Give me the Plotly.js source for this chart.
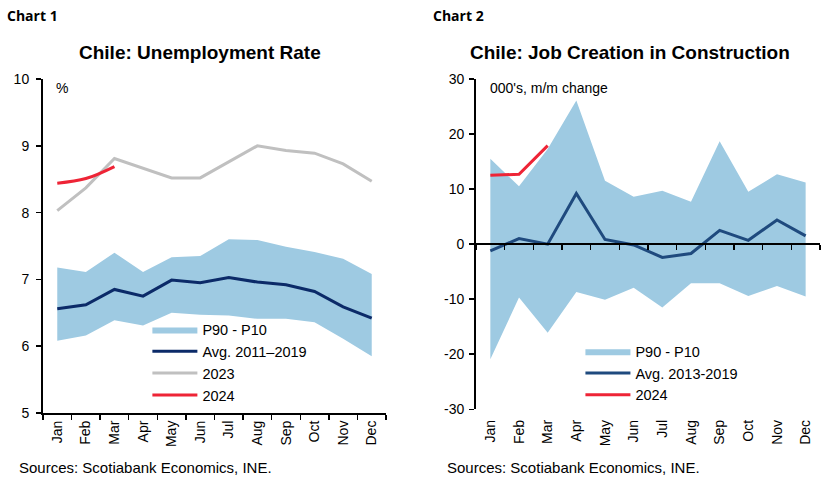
<!DOCTYPE html>
<html>
<head>
<meta charset="utf-8">
<script src="https://cdn.plot.ly/plotly-3.0.1.min.js"></script>
<style>
  html, body { margin: 0; padding: 0; background: #fff; }
  #chart { width: 828px; height: 483px; }
</style>
</head>
<body>
<div id="chart"></div>
<script>
var months = ['Jan', 'Feb', 'Mar', 'Apr', 'May', 'Jun', 'Jul', 'Aug', 'Sep', 'Oct', 'Nov', 'Dec']

// chart 1: unemployment rate, %
var unempP90 = [7.18, 7.11, 7.40, 7.11, 7.33, 7.35, 7.60, 7.59, 7.49, 7.41, 7.31, 7.08]
var unempP10 = [6.08, 6.16, 6.39, 6.31, 6.50, 6.47, 6.46, 6.41, 6.41, 6.36, 6.11, 5.85]
var unempAvg = [6.56, 6.62, 6.85, 6.75, 6.99, 6.95, 7.03, 6.96, 6.92, 6.82, 6.59, 6.42]
var unemp2023 = [8.03, 8.37, 8.81, 8.66, 8.52, 8.52, 8.76, 9.00, 8.93, 8.89, 8.73, 8.47]
var unemp2024 = [8.44, 8.51, 8.69]

// chart 2: construction jobs, 000's m/m change
var jobsP90 = [15.5, 10.5, 17.3, 26.1, 11.5, 8.6, 9.7, 7.7, 18.7, 9.5, 12.7, 11.2]
var jobsP10 = [-20.9, -9.7, -16.1, -8.7, -10.1, -7.9, -11.5, -7.1, -7.1, -9.4, -7.6, -9.5]
var jobsAvg = [-1.2, 1.0, 0.0, 9.2, 0.85, -0.15, -2.4, -1.7, 2.5, 0.7, 4.4, 1.5]
var jobs2024 = [12.5, 12.7, 17.9]

var jobsTicks = [-30, -20, -10, 0, 10, 20, 30]
var jobsTickText = ['-30', '-20', '-10', '0', '10', '20', '30']

var bandColor = '#9ecae2'
var font = 'Liberation Sans, Arial, sans-serif'

var data = [
  // chart 1
  {x: months, y: unempP10, type: 'scatter', mode: 'lines', line: {width: 0}, showlegend: false, hoverinfo: 'skip', xaxis: 'x', yaxis: 'y'},
  {x: months, y: unempP90, type: 'scatter', mode: 'lines', fill: 'tonexty', fillcolor: bandColor, line: {width: 0, color: bandColor}, name: 'P90 - P10', legend: 'legend', xaxis: 'x', yaxis: 'y'},
  {x: months, y: unempAvg, type: 'scatter', mode: 'lines', line: {width: 3, color: '#0b2a68'}, name: 'Avg. 2011–2019', legend: 'legend', xaxis: 'x', yaxis: 'y'},
  {x: months, y: unemp2023, type: 'scatter', mode: 'lines', line: {width: 3, color: '#c0c0c0'}, name: '2023', legend: 'legend', xaxis: 'x', yaxis: 'y'},
  {x: months.slice(0, 3), y: unemp2024, type: 'scatter', mode: 'lines', line: {width: 3, color: '#ee2436', shape: 'spline'}, name: '2024', legend: 'legend', xaxis: 'x', yaxis: 'y'},
  // chart 2
  {x: months, y: jobsP10, type: 'scatter', mode: 'lines', line: {width: 0}, showlegend: false, hoverinfo: 'skip', xaxis: 'x2', yaxis: 'y2'},
  {x: months, y: jobsP90, type: 'scatter', mode: 'lines', fill: 'tonexty', fillcolor: bandColor, line: {width: 0, color: bandColor}, name: 'P90 - P10', legend: 'legend2', xaxis: 'x2', yaxis: 'y2'},
  // empty trace so the zero-crossing category axis gets drawn
  {x: [], y: [], type: 'scatter', mode: 'lines', showlegend: false, hoverinfo: 'skip', xaxis: 'x3', yaxis: 'y2'},
  {x: months, y: jobsAvg, type: 'scatter', mode: 'lines', line: {width: 3, color: '#1f4a7e'}, name: 'Avg. 2013-2019', legend: 'legend2', xaxis: 'x2', yaxis: 'y2'},
  {x: months.slice(0, 3), y: jobs2024, type: 'scatter', mode: 'lines', line: {width: 3, color: '#ee2436'}, name: '2024', legend: 'legend2', xaxis: 'x2', yaxis: 'y2'}
]

var tickFont = {family: font, size: 14, color: '#000'}

var layout = {
  width: 828,
  height: 483,
  margin: {l: 0, r: 0, t: 0, b: 0},
  paper_bgcolor: '#fff',
  plot_bgcolor: 'rgba(0,0,0,0)',
  showlegend: true,
  font: {family: font, size: 14, color: '#000'},
  xaxis: {
    domain: [0.0519, 0.4662], anchor: 'y', type: 'category', range: [-0.5, 11.5],
    showline: true, linecolor: '#000', linewidth: 2, ticks: 'outside', tickson: 'boundaries',
    ticklen: 5, tickwidth: 1.5, tickcolor: '#000', tickangle: -90, tickfont: tickFont,
    showgrid: false, zeroline: false, fixedrange: true
  },
  yaxis: {
    domain: [0.1449, 0.8364], anchor: 'x', range: [5, 10], dtick: 1,
    showline: true, linecolor: '#000', linewidth: 2, ticks: 'outside', ticklen: 5,
    tickwidth: 1.5, tickcolor: '#000', tickfont: tickFont, showgrid: false, zeroline: false,
    ticklabelstandoff: 4
  },
  xaxis2: {
    domain: [0.5749, 0.9903], anchor: 'y2', type: 'category', range: [-0.5, 11.5],
    showline: false, ticks: 'outside', ticklen: 4, tickcolor: 'rgba(0,0,0,0)', tickangle: -90,
    tickfont: tickFont, showgrid: false, zeroline: false
  },
  xaxis3: {
    overlaying: 'x2', anchor: 'free', position: 0.4948, type: 'linear', range: [-0.5, 11.5],
    tick0: -0.5, dtick: 1, showticklabels: false, showline: true, linecolor: '#000', linewidth: 2,
    ticks: 'outside', ticklen: 5, tickwidth: 1.5, tickcolor: '#000', showgrid: false, zeroline: false
  },
  yaxis2: {
    domain: [0.1526, 0.8364], anchor: 'x2', range: [-30, 30], tickvals: jobsTicks, ticktext: jobsTickText,
    showline: true, linecolor: '#000', linewidth: 2, ticks: 'outside', ticklen: 5,
    tickwidth: 1.5, tickcolor: '#000', tickfont: tickFont, showgrid: false, zeroline: false,
    ticklabelstandoff: 2
  },
  legend: {
    x: 0.178, y: 0.351, xanchor: 'left', yanchor: 'top', bgcolor: 'rgba(0,0,0,0)', traceorder: 'normal',
    font: {family: font, size: 14.5, color: '#000'}, tracegroupgap: 0, itemwidth: 45
  },
  legend2: {
    x: 0.701, y: 0.306, xanchor: 'left', yanchor: 'top', bgcolor: 'rgba(0,0,0,0)', traceorder: 'normal',
    font: {family: font, size: 14.5, color: '#000'}, tracegroupgap: 0, itemwidth: 45
  },
  annotations: [
    {text: '<b>Chart 1</b>', xref: 'paper', yref: 'paper', x: 0.006, y: 0.967, xanchor: 'left', yanchor: 'middle', showarrow: false, font: {family: 'Open Sans, sans-serif', size: 14}},
    {text: '<b>Chart 2</b>', xref: 'paper', yref: 'paper', x: 0.521, y: 0.967, xanchor: 'left', yanchor: 'middle', showarrow: false, font: {family: 'Open Sans, sans-serif', size: 14}},
    {text: '<b>Chile: Unemployment Rate</b>', xref: 'paper', yref: 'paper', x: 0.2415, y: 0.892, xanchor: 'center', yanchor: 'middle', showarrow: false, font: {family: font, size: 19}},
    {text: '<b>Chile: Job Creation in Construction</b>', xref: 'paper', yref: 'paper', x: 0.7605, y: 0.892, xanchor: 'center', yanchor: 'middle', showarrow: false, font: {family: font, size: 19}},
    {text: '%', xref: 'paper', yref: 'paper', x: 0.065, y: 0.818, xanchor: 'left', yanchor: 'middle', showarrow: false, font: {family: font, size: 14}},
    {text: "000's, m/m change", xref: 'paper', yref: 'paper', x: 0.589, y: 0.818, xanchor: 'left', yanchor: 'middle', showarrow: false, font: {family: font, size: 14}},
    {text: 'Sources: Scotiabank Economics, INE.', xref: 'paper', yref: 'paper', x: 0.02, y: 0.033, xanchor: 'left', yanchor: 'middle', showarrow: false, font: {family: font, size: 15}},
    {text: 'Sources: Scotiabank Economics, INE.', xref: 'paper', yref: 'paper', x: 0.537, y: 0.033, xanchor: 'left', yanchor: 'middle', showarrow: false, font: {family: font, size: 15}}
  ]
}

Plotly.newPlot('chart', data, layout, {displayModeBar: false, staticPlot: true})
</script>
</body>
</html>
